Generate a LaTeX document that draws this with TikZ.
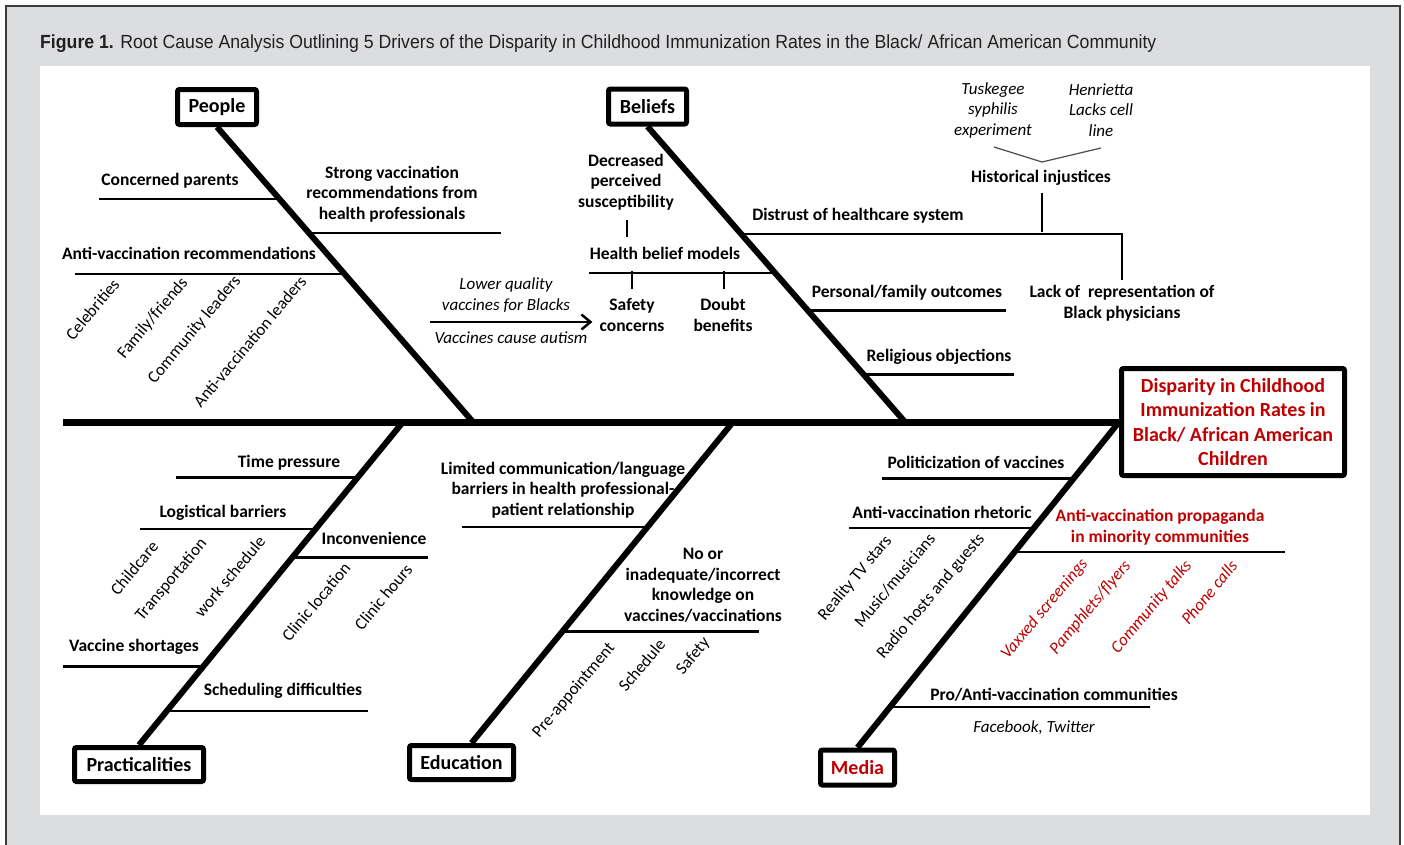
\documentclass[tikz,border=0pt]{standalone}
\usepackage{fontspec}
\setmainfont{Carlito}
\newfontfamily\capfont[FakeStretch=0.93]{Liberation Sans}
\usetikzlibrary{arrows.meta}
\definecolor{panelgray}{HTML}{DCDDDF}
\definecolor{framegray}{HTML}{3C3C3C}
\definecolor{capred}{HTML}{C00000}
\definecolor{captext}{HTML}{231F20}

\begin{document}
\begin{tikzpicture}
  [x=1pt,y=-1pt,
   hdbox/.style={draw,line width=5pt,rounded corners=2pt,fill=white,inner sep=0pt,
     minimum height=35pt,font=\bfseries\fontsize{20}{24}\selectfont},
   cause/.style={align=center,inner sep=0pt,font=\bfseries\fontsize{17.5}{20.5}\selectfont},
   note/.style={align=center,inner sep=0pt,font=\itshape\fontsize{17}{20.5}\selectfont},
   sub/.style={inner sep=0pt,rotate=50,anchor=east,font=\fontsize{17}{18}\selectfont},
   redsub/.style={sub,text=capred,font=\itshape\fontsize{17}{18}\selectfont},
   spine/.style={line width=7pt},
   bone/.style={line width=6pt},
   twig/.style={line width=2.5pt},
   capline/.style={anchor=base west,inner sep=0pt,text=captext,
     font=\capfont\fontsize{19}{20}\selectfont}]

  % frame and caption
  \useasboundingbox (0,0) rectangle (1404,844);
  \draw[framegray,line width=2pt,fill=panelgray] (6,6) rectangle (1400,880);
  \fill[white] (40,66) rectangle (1370,815);
  \node[capline] (cap) at (40,48) {\textbf{Figure 1.} Root Cause Analysis Outlining 5 Drivers of the Disparity in Childhood Immunization Rates in the Black/ African American Community};

  % heads
  \node[hdbox,minimum width=79pt] (people) at (217,107) {People};
  \node[hdbox,minimum width=78pt] (beliefs) at (647.5,106.5) {Beliefs};
  \node[hdbox,minimum width=129pt,minimum height=34pt] (pract) at (139,764.5) {Practicalities};
  \node[hdbox,minimum width=104pt,minimum height=34pt] (edu) at (461.5,762.5) {Education};
  \node[hdbox,minimum width=74pt,text=capred] (media) at (857.5,767.5) {Media};
  \node[hdbox,minimum width=223pt,minimum height=107pt,align=center,text=capred,
    font=\bfseries\fontsize{20}{24.5}\selectfont] (effect) at (1233,422)
    {Disparity in Childhood\\Immunization Rates in\\Black/ African American\\Children};

  % spine and bones
  \coordinate (tail) at (63,422);
  \coordinate (pj) at (473,422);
  \coordinate (bj) at (905,422);
  \coordinate (cj) at (403,422);
  \coordinate (ej) at (733,422);
  \draw[spine] (tail) -- (effect.west);
  \draw[bone] (people.south) -- coordinate[pos=.2445] (p1) coordinate[pos=.359] (p2)
    coordinate[pos=.4975] (p3) (pj);
  \draw[bone] (beliefs.south) -- coordinate[pos=.3636] (b1) coordinate[pos=.4949] (b2)
    coordinate[pos=.6229] (b3) coordinate[pos=.8384] (b4) (bj);
  \draw[bone] (pract.north) -- coordinate[pos=.8285] (c1) coordinate[pos=.6692] (c2)
    coordinate[pos=.5804] (c3) coordinate[pos=.2435] (c4) coordinate[pos=.1057] (c5) (cj);
  \draw[bone] ([xshift=10pt]edu.north) -- coordinate[pos=.6733] (e1) coordinate[pos=.3467] (e2) (ej);
  \draw[bone] (media.north) -- coordinate[pos=.8262] (m1) coordinate[pos=.6738] (m2)
    coordinate[pos=.6006] (m3) coordinate[pos=.125] (m4) (effect.west);

  % people
  \node[cause] (concp) at (170,181) {Concerned parents};
  \node[cause] (strong) at (392,194) {Strong vaccination\\recommendations from\\health professionals};
  \node[cause] (avrec) at (189,253) {Anti-vaccination recommendations};
  \draw[twig] (p1) -- ++(-181,0);
  \draw[twig] (p2) -- ++(192,0);
  \draw[twig] (p3) -- ++(-269,0);
  \node[sub] (celeb) at (116,281) {Celebrities};
  \node[sub] (famfr) at (185,280) {Family/friends};
  \node[sub] (comld) at (238,278) {Community leaders};
  \node[sub] (avld) at (303,278) {Anti-vaccination leaders};

  % beliefs
  \node[note] (lowq) at (506,295) {Lower quality\\vaccines for Blacks};
  \node[note] (autism) at (511,338) {Vaccines cause autism};
  \node[cause] (dps) at (626,182) {Decreased\\perceived\\susceptibility};
  \node[cause] (hbm) at (665,253) {Health belief models};
  \node[cause] (sfty) at (632,315) {Safety\\concerns};
  \node[cause] (doubt) at (723,315) {Doubt\\benefits};
  \coordinate (arrA) at (430,322);
  \draw[twig,-{Straight Barb[length=9pt,width=15pt,line width=2.5pt]}] (arrA) -- ([xshift=-7pt]arrA -| sfty.west);
  \coordinate (tk1) at (627,220);
  \coordinate (tk2) at (632,271);
  \coordinate (tk3) at (724,271);
  \draw[twig] (tk1) -- ++(0,17);
  \draw[twig] (b2) -- ++(-186,0);
  \draw[twig] (tk2) -- ++(0,18);
  \draw[twig] (tk3) -- ++(0,18);
  \node[cause] (distr) at (858,216) {Distrust of healthcare system};
  \node[note] (tusk) at (993,110) {Tuskegee\\syphilis\\experiment};
  \node[note] (henr) at (1101,110) {Henrietta\\Lacks cell\\line};
  \node[cause] (hist) at (1041,178) {Historical injustices};
  \node[cause] (lackrep) at (1122,303) {Lack of\ \ representation of\\Black physicians};
  \coordinate (vl) at (994,147);
  \coordinate (vtip) at (1042,162);
  \coordinate (vr) at (1101,148);
  \draw[black!70,line width=1.2pt] (vl) -- (vtip) -- (vr);
  \draw[twig] (b1) -- ++(381,0) -- ++(0,46);
  \coordinate (hj) at (1042,232);
  \draw[twig] (hj) -- ++(0,-39);
  \node[cause] (persf) at (907,293) {Personal/family outcomes};
  \node[cause] (relig) at (939,357) {Religious objections};
  \draw[twig] (b3) -- ++(198,0);
  \draw[twig] (b4) -- ++(151,0);

  % practicalities
  \node[cause] (timep) at (289,463) {Time pressure};
  \node[cause] (logis) at (223,513) {Logistical barriers};
  \node[cause] (inconv) at (374,538) {Inconvenience};
  \node[cause] (vshort) at (134,647) {Vaccine shortages};
  \node[cause] (schedd) at (283,691) {Scheduling difficulties};
  \draw[twig] (c1) -- ++(-182,0);
  \draw[twig] (c2) -- ++(-176,0);
  \draw[twig] (c3) -- ++(136,0);
  \draw[twig] (c4) -- ++(-140,0);
  \draw[twig] (c5) -- ++(201,0);
  \node[sub] (childc) at (155,543) {Childcare};
  \node[sub] (transp) at (204,541) {Transportation};
  \node[sub] (worksch) at (262,538) {work schedule};
  \node[sub] (clinloc) at (347,565) {Clinic location};
  \node[sub] (clinhr) at (409,566) {Clinic hours};

  % education
  \node[cause] (limcom) at (563,490) {Limited communication/language\\barriers in health professional-\\patient relationship};
  \node[cause] (noknow) at (703,585) {No or\\inadequate/incorrect\\knowledge on\\vaccines/vaccinations};
  \draw[twig] (e1) -- ++(-186,0);
  \draw[twig] (e2) -- ++(197,0);
  \node[sub] (preap) at (612,645) {Pre-appointment};
  \node[sub] (sched) at (662,641) {Schedule};
  \node[sub] (safety) at (707,640) {Safety};

  % media
  \node[cause] (polit) at (976,462) {Politicization of vaccines};
  \node[cause] (avrhet) at (942,512) {Anti-vaccination rhetoric};
  \node[cause,text=capred] (propag) at (1160,527) {Anti-vaccination propaganda\\in minority communities};
  \node[cause] (procom) at (1054,695) {Pro/Anti-vaccination communities};
  \node[note] (fbtw) at (1034,728) {Facebook, Twitter};
  \draw[twig] (m1) -- ++(-192,0);
  \draw[twig] (m2) -- ++(-185,0);
  \draw[twig] (m3) -- ++(270,0);
  \draw[twig] (m4) -- ++(260,0);
  \node[sub] (realtv) at (889,538) {Reality TV stars};
  \node[sub] (music) at (932,536) {Music/musicians};
  \node[sub] (radio) at (982,536) {Radio hosts and guests};
  \node[redsub] (vaxxed) at (1085,561) {Vaxxed screenings};
  \node[redsub] (pamph) at (1128,563) {Pamphlets/flyers};
  \node[redsub] (commtalk) at (1189,563) {Community talks};
  \node[redsub] (phone) at (1234,563) {Phone calls};
\end{tikzpicture}
\end{document}
